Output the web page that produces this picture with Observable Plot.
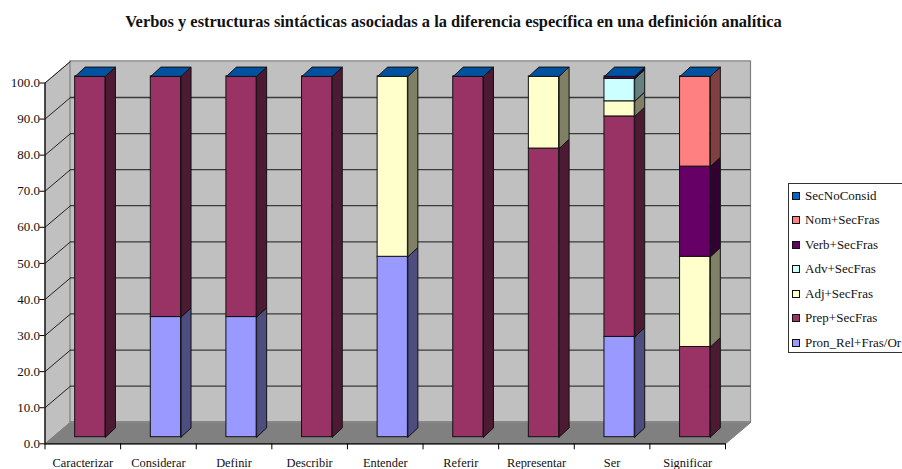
<!DOCTYPE html>
<html lang="es">
<head>
<meta charset="utf-8">
<script src="https://cdn.jsdelivr.net/npm/d3@7"></script>
<script src="https://cdn.jsdelivr.net/npm/@observablehq/plot@0.6"></script>
<style>
  html, body { margin: 0; padding: 0; background: #fff; width: 902px; height: 469px; overflow: hidden; }
  body { position: relative; font-family: "Liberation Serif", serif; color: #111; }
  #title { height: 46px; box-sizing: border-box; padding-top: 14px; text-align: center; font-weight: bold; font-size: 16.45px; line-height: 16px; white-space: nowrap; margin-left: 5px; }
  #chart svg { display: block; }
  #legend { position: absolute; left: 788px; top: 183px; width: 120px; height: 170px; box-sizing: border-box;
            border: 1px solid #333; font-size: 13px; }
  #legend div { position: absolute; left: 16px; white-space: nowrap; line-height: 14px; }
  #legend i { position: absolute; left: -13px; top: 3px; width: 6px; height: 6px; border: 1px solid #111; }
</style>
</head>
<body>
<div id="title">Verbos y estructuras sintácticas asociadas a la diferencia específica en una definición analítica</div>
<div id="chart"></div>
<div id="legend"></div>
<script>
// Categories along the x axis
const verbs = ["Caracterizar", "Considerar", "Definir", "Describir", "Entender", "Referir", "Representar", "Ser", "Significar"];

// Percentage per verb, one list per sentence structure (bottom of the stack first)
const pronRel = [0, 33.3, 33.3, 0, 50, 0, 0, 27.8, 0];
const prep    = [100, 66.7, 66.7, 100, 0, 100, 80, 61.1, 25];
const adj     = [0, 0, 0, 0, 50, 0, 20, 4.2, 25];
const adv     = [0, 0, 0, 0, 0, 0, 0, 6.2, 0];
const verb    = [0, 0, 0, 0, 0, 0, 0, 0.7, 25];
const nom     = [0, 0, 0, 0, 0, 0, 0, 0, 25];
const secNo   = [0, 0, 0, 0, 0, 0, 0, 0, 0];

const seriesNames = ["Pron_Rel+Fras/Or", "Prep+SecFras", "Adj+SecFras", "Adv+SecFras", "Verb+SecFras", "Nom+SecFras", "SecNoConsid"];
const seriesValues = [pronRel, prep, adj, adv, verb, nom, secNo];
const frontColors = ["#9999ff", "#993366", "#ffffcc", "#ccffff", "#660066", "#ff8080", "#0066cc"];
const sideColors  = ["#4d4d80", "#4d1a33", "#808066", "#668080", "#330033", "#804040", "#003366"];
const capColor = "#00519f";

const valueTicks = d3.range(0, 101, 10);

// Oblique projection: pixels per data unit on each axis
const plotLeft = 44.5, plotRight = 725, plotTop = 36.5, plotBottom = 397.3;
const pxX = (plotRight - plotLeft) / verbs.length;
const pxY = (plotBottom - plotTop) / 100;
const toX = px => px / pxX;
const toY = px => px / pxY;

const wallDx = 25.5, wallDy = 21.6;   // depth of the chart box
const barDx = 7.5, barDy = 6.6;       // inset of a bar's front face from the axis
const sideDx = 10, sideDy = 9.3;      // depth of a bar

const polygon = (pts, fill, stroke, strokeWidth = 1) =>
  Plot.line([...pts, pts[0]], {x: d => d[0], y: d => d[1], fill, stroke, strokeWidth, strokeLinejoin: "miter", curve: "linear"});

const marks = [];

// Chart box: side wall, floor, back wall
marks.push(polygon([[0, 0], [toX(wallDx), toY(wallDy)], [toX(wallDx), 100 + toY(wallDy)], [0, 100]], "#c0c0c0", "#808080"));
marks.push(polygon([[0, 0], [verbs.length, 0], [verbs.length + toX(wallDx), toY(wallDy)], [toX(wallDx), toY(wallDy)]], "#808080", "#808080"));
marks.push(Plot.rect([0], {x1: 0, x2: verbs.length, y1: 0, y2: 100, dx: wallDx, dy: -wallDy, fill: "#c0c0c0", stroke: "#808080", strokeWidth: 1.2}));

// Gridlines on the back wall and running along the side wall
marks.push(Plot.ruleY(valueTicks.slice(1, -1), {x1: 0, x2: verbs.length, dx: wallDx, dy: -wallDy, stroke: "#3a3a3a", strokeWidth: 1.3}));
marks.push(Plot.link(valueTicks.slice(1), {x1: 0, y1: d => d, x2: toX(wallDx), y2: d => d + toY(wallDy), stroke: "#222", strokeWidth: 1}));

// Stacked bars, left to right, each drawn from the bottom up
const shiftX = toX(barDx), shiftY = toY(barDy);
const depthX = toX(sideDx), depthY = toY(sideDy);
verbs.forEach((name, i) => {
  const left = i + 0.3 + shiftX, right = i + 0.7 + shiftX;
  let base = 0;
  seriesValues.forEach((values, s) => {
    const v = values[i];
    if (!v) return;
    const lo = base + shiftY, hi = base + v + shiftY;
    marks.push(polygon([[right, lo], [right + depthX, lo + depthY], [right + depthX, hi + depthY], [right, hi]], sideColors[s], "#111"));
    marks.push(Plot.rect([name], {x1: left, x2: right, y1: lo, y2: hi, fill: frontColors[s], stroke: "#111", strokeWidth: 1}));
    base += v;
  });
  const top = base + shiftY;
  marks.push(polygon([[left, top], [right, top], [right + depthX, top + depthY], [left + depthX, top + depthY]], capColor, "#111"));
});

// Axes
marks.push(Plot.ruleX([0], {y1: 0, y2: 100, stroke: "#000", strokeWidth: 1.2}));
marks.push(Plot.ruleY([0], {x1: 0, x2: verbs.length, stroke: "#000", strokeWidth: 1.2}));
marks.push(Plot.axisY({ticks: valueTicks, tickFormat: ".1f", tickSize: 5, tickPadding: 0, label: null, stroke: "#000"}));
marks.push(Plot.axisX({ticks: d3.range(verbs.length + 1), tickSize: 6, tickFormat: () => "", label: null, stroke: "#000"}));
marks.push(Plot.axisX({ticks: verbs.map((_, i) => i + 0.5), tickSize: 0, tickPadding: 14, fontSize: 12.4, tickFormat: d => verbs[d - 0.5], label: null}));

const chart = Plot.plot({
  width: 902,
  height: 423,
  marginLeft: plotLeft,
  marginRight: 902 - plotRight,
  marginTop: plotTop,
  marginBottom: 423 - plotBottom,
  x: {type: "linear", domain: [0, verbs.length]},
  y: {type: "linear", domain: [0, 100]},
  style: {fontFamily: "'Liberation Serif', serif", fontSize: "13px", color: "#111", background: "transparent", overflow: "visible"},
  marks
});
document.getElementById("chart").append(chart);

// Legend lists the series top of the stack first
const legend = document.getElementById("legend");
seriesNames.map((n, s) => ({n, c: frontColors[s]})).reverse().forEach((e, k) => {
  const row = document.createElement("div");
  row.style.top = (5 + k * 24.45) + "px";
  const swatch = document.createElement("i");
  swatch.style.background = e.c;
  row.append(swatch, e.n);
  legend.append(row);
});
</script>
</body>
</html>
